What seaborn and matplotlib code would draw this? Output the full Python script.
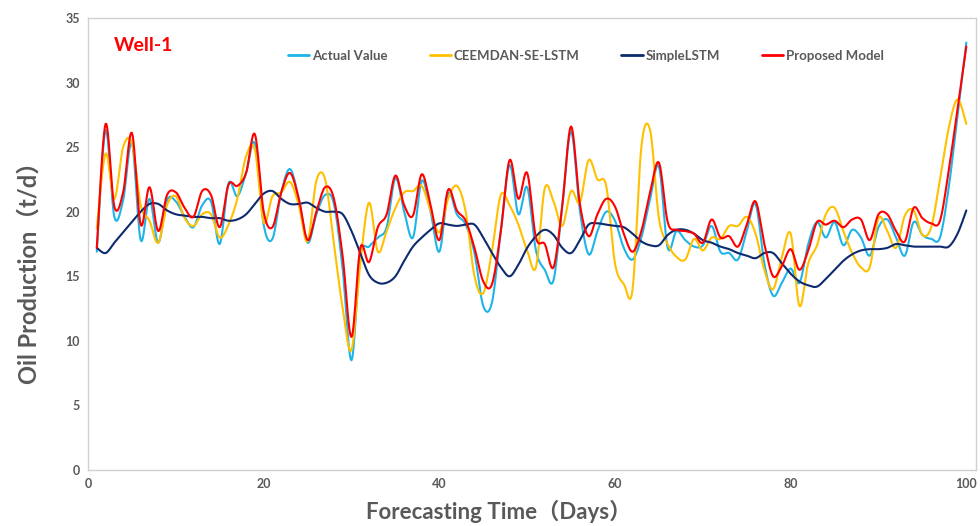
import numpy as np
import pandas as pd
import matplotlib
matplotlib.use("Agg")
import matplotlib.pyplot as plt
import seaborn as sns
from matplotlib.lines import Line2D

days = list(range(1, 101))

actual = [16.9, 26.3, 19.6, 20.9, 25.3, 17.8, 21.0, 17.6, 20.9, 20.8,
          19.6, 18.8, 20.5, 20.8, 17.5, 22.2, 21.2, 23.0, 25.3, 19.0,
          17.9, 21.5, 23.3, 21.0, 17.6, 19.8, 21.3, 20.6, 15.5, 8.5,
          16.5, 17.3, 18.0, 18.8, 22.6, 20.0, 18.0, 22.4, 20.0, 16.9,
          21.4, 19.8, 19.0, 16.8, 12.7, 13.0, 18.5, 23.6, 19.8, 21.9,
          17.0, 15.5, 14.7, 20.5, 26.2, 20.1, 16.7, 18.5, 20.0, 19.3,
          17.2, 16.3, 18.0, 21.0, 23.5, 17.2, 18.5, 17.8, 17.3, 17.4,
          18.9, 16.9, 16.8, 16.3, 18.5, 20.6, 16.0, 13.5, 14.5, 15.6,
          14.5, 17.5, 19.2, 18.0, 19.2, 17.4, 18.6, 18.0, 16.6, 18.8,
          19.4, 18.0, 16.6, 19.2, 18.2, 17.9, 18.0, 21.9, 27.5, 33.1]

ceemdan = [18.7, 24.5, 21.0, 25.0, 25.3, 20.5, 19.3, 17.6, 20.5, 21.2,
           19.5, 18.9, 19.8, 19.8, 18.0, 19.0, 21.0, 24.3, 24.8, 19.2,
           21.2, 21.5, 22.3, 20.5, 17.7, 22.4, 22.5, 17.5, 12.5, 9.3,
           16.0, 20.7, 16.9, 18.5, 20.3, 21.5, 21.6, 22.0, 20.1, 18.4,
           21.0, 22.0, 20.0, 15.0, 13.7, 17.0, 21.3, 20.5, 19.0, 17.0,
           15.7, 21.8, 20.8, 18.9, 21.6, 20.7, 24.0, 22.5, 22.0, 16.0,
           14.4, 14.0, 25.0, 26.3, 19.5, 17.5, 16.5, 16.3, 17.9, 17.0,
           18.0, 17.9, 18.9, 18.9, 19.6, 18.3, 15.5, 14.0, 16.5, 18.3,
           12.7, 16.0, 17.4, 19.8, 20.3, 18.5, 16.8, 15.7, 15.7, 19.5,
           18.5, 17.2, 19.7, 20.1, 18.2, 18.8, 22.5, 26.5, 28.7, 26.8]

simple_lstm = [17.2, 16.8, 17.6, 18.4, 19.2, 20.0, 20.6, 20.6, 20.1, 19.8,
               19.7, 19.6, 19.6, 19.5, 19.5, 19.3, 19.4, 19.8, 20.6, 21.4,
               21.6, 21.0, 20.6, 20.6, 20.7, 20.3, 20.0, 20.0, 19.8, 18.5,
               16.8, 15.1, 14.5, 14.5, 15.0, 16.2, 17.3, 18.0, 18.6, 19.1,
               19.0, 18.9, 19.0, 19.0, 18.0, 16.8, 15.7, 15.0, 15.9, 17.2,
               18.1, 18.6, 18.2, 17.2, 16.8, 17.8, 19.0, 19.1, 19.0, 18.9,
               18.8, 18.3, 17.7, 17.4, 17.4, 18.2, 18.6, 18.6, 18.3, 17.8,
               17.6, 17.3, 17.1, 16.8, 16.6, 16.4, 16.8, 16.8, 16.0, 15.2,
               14.6, 14.3, 14.2, 14.8, 15.5, 16.2, 16.7, 17.0, 17.1, 17.1,
               17.2, 17.5, 17.4, 17.3, 17.3, 17.3, 17.3, 17.3, 18.3, 20.1]

proposed = [17.2, 26.8, 20.4, 21.5, 26.1, 19.0, 21.9, 18.5, 21.3, 21.5,
            20.3, 19.6, 21.6, 21.3, 18.8, 22.1, 22.0, 23.0, 26.0, 20.0,
            18.8, 21.5, 23.0, 21.0, 17.8, 20.0, 21.9, 21.0, 16.5, 10.3,
            17.2, 16.1, 18.8, 19.8, 22.8, 20.5, 19.7, 22.9, 20.5, 17.8,
            21.7, 20.1, 19.3, 17.2, 14.6, 14.4, 18.5, 24.0, 21.0, 23.0,
            18.0, 17.5, 15.7, 20.5, 26.6, 20.6, 18.1, 19.8, 21.0, 20.4,
            18.3, 16.9, 18.5, 21.5, 23.8, 19.2, 18.6, 18.5, 18.3, 17.6,
            19.4, 18.0, 18.1, 17.3, 19.0, 20.8, 17.5, 15.0, 15.8, 17.1,
            15.5, 17.0, 19.2, 19.0, 19.3, 18.8, 19.4, 19.4, 17.8, 19.8,
            19.8, 18.5, 17.7, 20.3, 19.5, 19.1, 19.3, 23.2, 28.0, 32.8]

series_names = ["Actual Value", "CEEMDAN-SE-LSTM", "SimpleLSTM", "Proposed Model"]
colors = ["#1fb4e8", "#ffc000", "#0d2a6e", "#ff0000"]
x_ticks = [0, 20, 40, 60, 80, 100]
y_ticks = [0, 5, 10, 15, 20, 25, 30, 35]


def smooth_path(x, y, steps=12):
    """Excel-style smoothed line rendering (cubic Bezier through every data point)."""
    x = np.asarray(x, float)
    y = np.asarray(y, float)
    px = np.concatenate([[x[0]], x, [x[-1]]])
    py = np.concatenate([[y[0]], y, [y[-1]]])
    xs, ys = [], []
    t = np.linspace(0, 1, steps, endpoint=False)
    for i in range(1, len(px) - 2):
        p0 = np.array([px[i], py[i]])
        p3 = np.array([px[i + 1], py[i + 1]])
        c1 = p0 + (np.array([px[i + 1], py[i + 1]]) - np.array([px[i - 1], py[i - 1]])) / 6
        c2 = p3 - (np.array([px[i + 2], py[i + 2]]) - np.array([px[i], py[i]])) / 6
        pts = ((1 - t)[:, None] ** 3 * p0 + 3 * ((1 - t) ** 2 * t)[:, None] * c1
               + 3 * ((1 - t) * t ** 2)[:, None] * c2 + (t ** 3)[:, None] * p3)
        xs.extend(pts[:, 0])
        ys.extend(pts[:, 1])
    xs.append(x[-1])
    ys.append(y[-1])
    return np.array(xs), np.array(ys)


frames = []
for name, vals in zip(series_names, [actual, ceemdan, simple_lstm, proposed]):
    sx, sy = smooth_path(days, vals)
    frames.append(pd.DataFrame({"Day": sx, "Value": sy, "Series": name}))
df = pd.concat(frames, ignore_index=True)

sns.set_theme(style="white")
plt.rcParams["font.family"] = ["Lato", "Noto Sans CJK SC", "DejaVu Sans"]

fig = plt.figure(figsize=(9.8, 5.26), dpi=100)
ax = fig.add_axes([88 / 980, 1 - 470 / 526, (976 - 88) / 980, (470 - 18) / 526])

sns.lineplot(data=df, x="Day", y="Value", hue="Series", hue_order=series_names,
             palette=colors, linewidth=1.5, ax=ax, legend=False,
             estimator=None, sort=False)

ax.set_xlim(0, 101.1)
ax.set_ylim(0, 35)
ax.set_xticks(x_ticks)
ax.set_yticks(y_ticks)
ax.tick_params(axis="both", length=0, labelsize=9, labelcolor="#595959", pad=6)
for lab in ax.get_xticklabels() + ax.get_yticklabels():
    lab.set_fontweight("bold")
for sp in ax.spines.values():
    sp.set_color("#d0d0d0")
    sp.set_linewidth(1.0)

ax.set_xlabel("Forecasting Time（Days）", fontsize=16, fontweight="bold",
              color="#595959")
ax.xaxis.set_label_coords(0.462, -0.067)
ax.set_ylabel("Oil Production（t/d）", fontsize=17, fontweight="bold",
              color="#595959")
ax.yaxis.set_label_coords(-0.053, 0.45)

ax.text(0.029, 0.94, "Well-1", transform=ax.transAxes, fontsize=14,
        fontweight="bold", color="#ff0000", va="center", ha="left")

handles = [Line2D([0], [0], color=c, linewidth=2) for c in colors]
leg = ax.legend(handles, series_names, loc="center left", ncol=4,
                bbox_to_anchor=(0.212, 0.917), frameon=False,
                handlelength=1.6, handletextpad=0.2, columnspacing=3.2,
                prop={"size": 9.5, "weight": "bold"})
for t in leg.get_texts():
    t.set_color("#595959")

fig.savefig("out.png", dpi=100)
